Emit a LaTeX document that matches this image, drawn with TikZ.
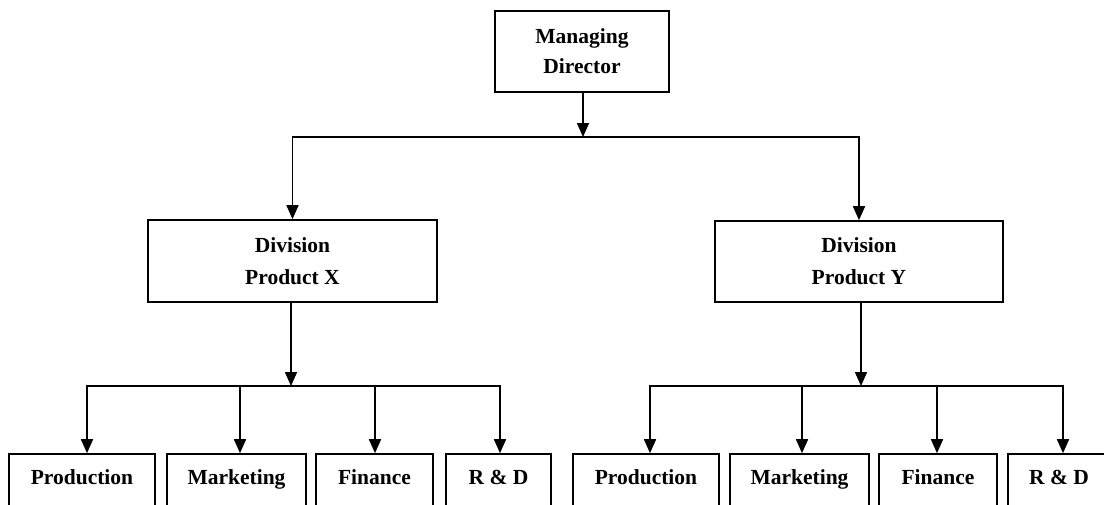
\documentclass[tikz,border=0pt]{standalone}
\usepackage{fontspec}
\setmainfont{Liberation Serif}
\usetikzlibrary{arrows.meta}
\begin{document}
\begin{tikzpicture}[x=1pt,y=-1pt,
  box/.style={draw=black, line width=1.6pt, fill=white, rectangle, inner sep=0pt,
    font=\bfseries\fontsize{21.5}{30}\selectfont, align=center},
  divbox/.style={box, font=\bfseries\fontsize{21.5}{32}\selectfont},
  leaf/.style={box, minimum height=56pt, text height=14pt, text depth=10pt},
  link/.style={draw=black, line width=1.6pt},
  arrow/.style={link, -{Triangle[length=14pt,width=12pt]}}]
\useasboundingbox (0,0) rectangle (1104,504);
\clip (0,0) rectangle (1104,504);

% top level
\node[box, minimum width=174pt, minimum height=81pt] (md) at (582,51.5) {Managing\\Director};

% divisions
\node[divbox, minimum width=289pt, minimum height=82pt] (dx) at (292.5,261) {Division\\Product X};
\node[divbox, minimum width=288pt, minimum height=81pt] (dy) at (859,261.5) {Division\\Product Y};

% functional departments, division X
\node[leaf, minimum width=146pt] (px) at (82,482) {Production};
\node[leaf, minimum width=139pt] (mx) at (236.5,482) {Marketing};
\node[leaf, minimum width=117pt] (fx) at (374.5,482) {Finance};
\node[leaf, minimum width=105pt] (rx) at (498.5,482) {R \& D};

% functional departments, division Y
\node[leaf, minimum width=146pt] (py) at (646,482) {Production};
\node[leaf, minimum width=139pt] (my) at (799.5,482) {Marketing};
\node[leaf, minimum width=118pt] (fy) at (938,482) {Finance};
\node[leaf, minimum width=102pt] (ry) at (1059,482) {R \& D};

% junction points on the horizontal bars
\coordinate (jt) at (583,137);
\coordinate (jx) at (291,386);
\coordinate (jy) at (861,386);

% director to divisions
\draw[arrow] ([xshift=1pt]md.south) -- (jt);
\draw[arrow] (jt) -| (dx.north);
\draw[arrow] (jt) -| (dy.north);

% division X to departments
\draw[arrow] ([xshift=-1.5pt]dx.south) -- (jx);
\draw[arrow] (jx) -| ([xshift=5pt]px.north);
\draw[arrow] (jx) -| ([xshift=3.5pt]mx.north);
\draw[arrow] (jx) -| ([xshift=0.5pt]fx.north);
\draw[arrow] (jx) -| ([xshift=1.5pt]rx.north);

% division Y to departments
\draw[arrow] ([xshift=2pt]dy.south) -- (jy);
\draw[arrow] (jy) -| ([xshift=4pt]py.north);
\draw[arrow] (jy) -| ([xshift=2.5pt]my.north);
\draw[arrow] (jy) -| ([xshift=-1pt]fy.north);
\draw[arrow] (jy) -| ([xshift=4pt]ry.north);
\end{tikzpicture}
\end{document}
